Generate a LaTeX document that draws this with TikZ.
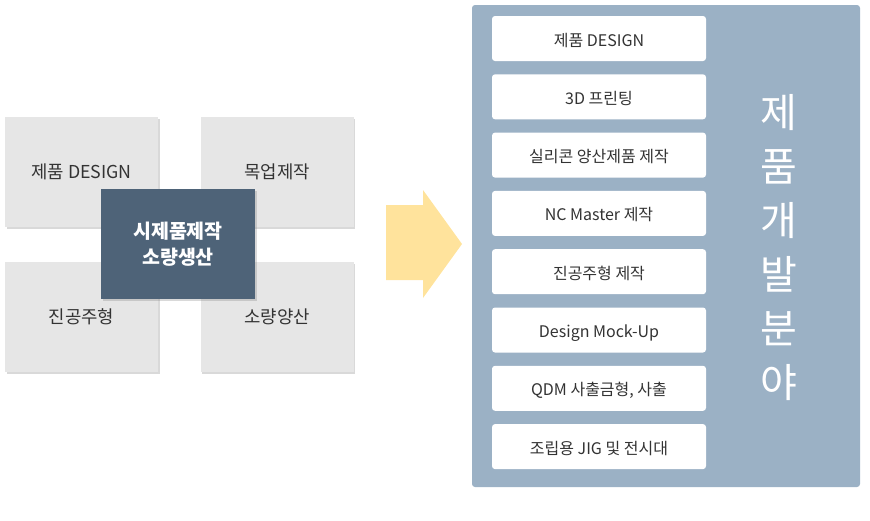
\documentclass[tikz,border=0pt]{standalone}
\usepackage{fontspec}
\setmainfont{Noto Sans CJK KR}
\usepackage{tikz}
\usetikzlibrary{shadows}
\definecolor{ink}{HTML}{333333}
\definecolor{tilegray}{HTML}{E6E6E6}
\definecolor{coreblue}{HTML}{4E6378}
\definecolor{panelblue}{HTML}{9BB1C5}
\definecolor{flowyellow}{HTML}{FFE39C}
\tikzset{
  tile/.style={fill=tilegray, minimum width=153pt, minimum height=110pt, inner sep=0pt,
    text=ink, font=\fontsize{17.8}{20}\selectfont,
    drop shadow={shadow xshift=1.5pt, shadow yshift=-1.5pt, opacity=0.3}},
  core/.style={fill=coreblue, minimum width=154pt, minimum height=110pt, inner sep=0pt,
    text=white, align=center, font=\bfseries\fontsize{19.5}{26}\selectfont,
    drop shadow={shadow xshift=1.5pt, shadow yshift=-1.5pt, opacity=0.3}},
  panel/.style={fill=panelblue, rounded corners=3pt},
  item/.style={fill=white, rounded corners=3pt, minimum width=214pt, minimum height=45pt,
    inner sep=0pt, text=ink, font=\fontsize{16}{18}\selectfont,
    text height=15pt, text depth=-2pt},
  flow/.style={fill=flowyellow},
  title/.style={text=white, align=center, font=\fontsize{40}{54}\selectfont}
}
\begin{document}
\begin{tikzpicture}[x=1pt, y=-1pt]
  \useasboundingbox (0,0) rectangle (870,520);
  % left: four tiles round the core
  \node[tile] (design) at (81.5,172) {제품 DESIGN};
  \node[tile] (mockup) at (277,172) {목업제작};
  \node[tile] (vacuum) at (81.5,317) {진공주형};
  \node[tile] (small) at (277,317) {소량양산};
  \node[core] (proto) at (178,244) {시제품제작\\소량생산};
  % arrow
  \draw[flow, draw=none] (386,205) -- (423,205) -- (423,190) -- (462,244)
    -- (423,298) -- (423,280) -- (386,280) -- cycle;
  % right panel
  \draw[panel, draw=none] (472,5) rectangle (860,487);
  \foreach \txt [count=\i from 0] in {제품 DESIGN, 3D 프린팅, 실리콘 양산제품 제작,
      NC Master 제작, 진공주형 제작, Design Mock-Up, {QDM 사출금형, 사출},
      조립용 JIG 및 전시대}
    \node[item] (item\i) at (599,38.5+58.3*\i) {\txt};
  \node[title] (field) at (779,248) {제\\품\\개\\발\\분\\야};
\end{tikzpicture}
\end{document}
